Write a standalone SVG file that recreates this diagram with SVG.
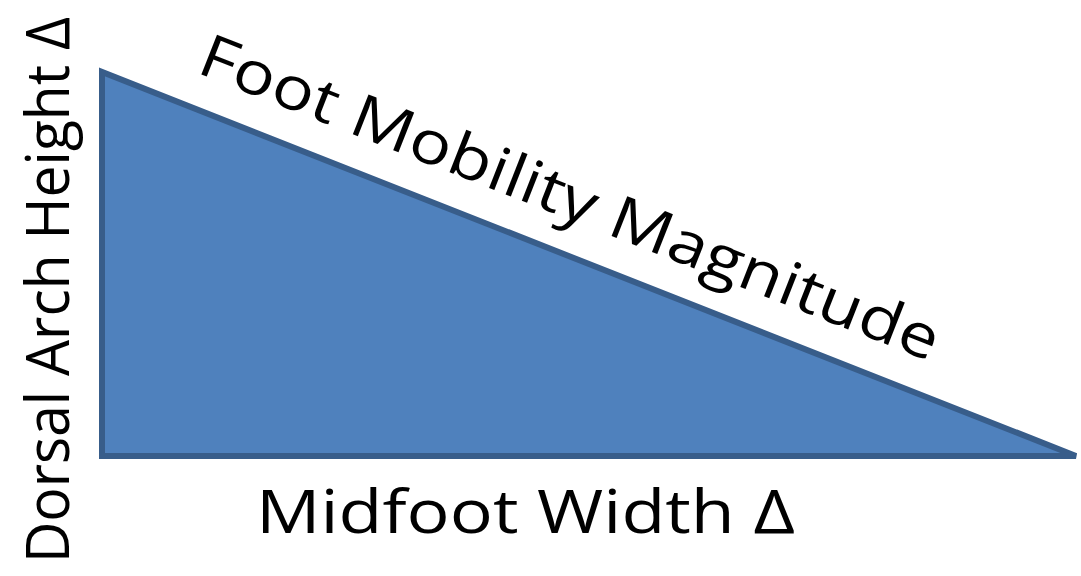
<svg xmlns="http://www.w3.org/2000/svg" width="1081" height="576" viewBox="0 0 1081 576">
<style>
.lbl{font-family:"Open Sans","Liberation Sans",sans-serif;font-size:60px;fill:#000}
</style>
<rect width="1081" height="576" fill="#fff"/>
<g id="triangle">
<polygon points="102,72 102,456 1076,456" fill="#4F81BD" stroke="#385D8A" stroke-width="6" stroke-linejoin="miter"/>
</g>
<g id="label-hyp">
<text class="lbl" transform="translate(195,72) rotate(21.5)" textLength="790" lengthAdjust="spacingAndGlyphs">Foot Mobility Magnitude</text>
</g>
<g id="label-bottom">
<text class="lbl" x="256" y="533" textLength="539" lengthAdjust="spacingAndGlyphs">Midfoot Width Δ</text>
</g>
<g id="label-left">
<text class="lbl" transform="translate(69,563) rotate(-90)" textLength="546" lengthAdjust="spacingAndGlyphs">Dorsal Arch Height Δ</text>
</g>
</svg>
